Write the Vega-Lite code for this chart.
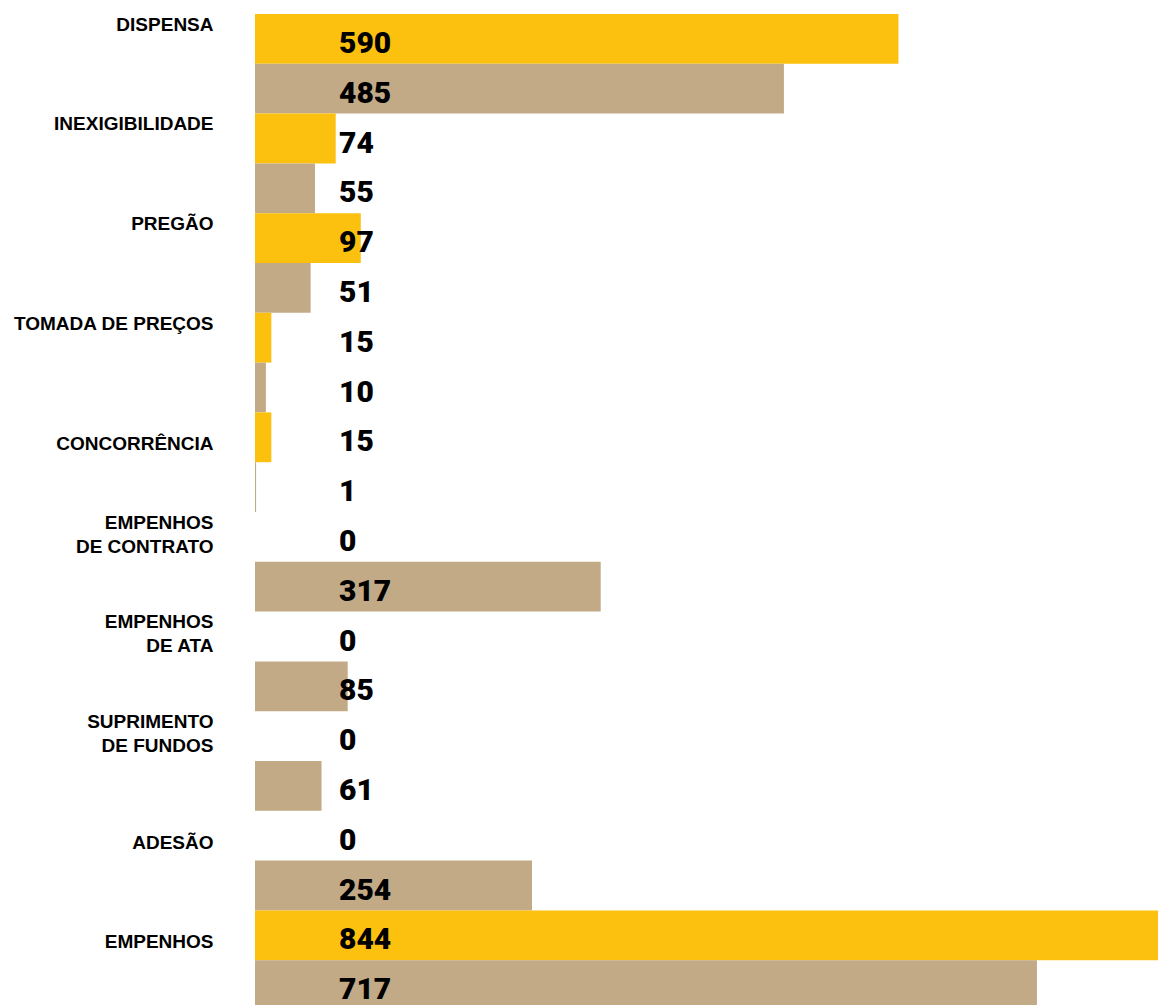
{
  "$schema": "https://vega.github.io/schema/vega-lite/v6.json",
  "autosize": "none",
  "width": 903,
  "height": 991,
  "padding": {"left": 255, "top": 14, "right": 0, "bottom": 0},
  "background": "white",
  "config": {"view": {"stroke": null}},
  "data": {
    "values": [
      {"modalidade": "DISPENSA", "serie": "A", "valor": 590},
      {"modalidade": "DISPENSA", "serie": "B", "valor": 485},
      {"modalidade": "INEXIGIBILIDADE", "serie": "A", "valor": 74},
      {"modalidade": "INEXIGIBILIDADE", "serie": "B", "valor": 55},
      {"modalidade": "PREGÃO", "serie": "A", "valor": 97},
      {"modalidade": "PREGÃO", "serie": "B", "valor": 51},
      {"modalidade": "TOMADA DE PREÇOS", "serie": "A", "valor": 15},
      {"modalidade": "TOMADA DE PREÇOS", "serie": "B", "valor": 10},
      {"modalidade": "CONCORRÊNCIA", "serie": "A", "valor": 15},
      {"modalidade": "CONCORRÊNCIA", "serie": "B", "valor": 1},
      {"modalidade": "EMPENHOS|DE CONTRATO", "serie": "A", "valor": 0},
      {"modalidade": "EMPENHOS|DE CONTRATO", "serie": "B", "valor": 317},
      {"modalidade": "EMPENHOS|DE ATA", "serie": "A", "valor": 0},
      {"modalidade": "EMPENHOS|DE ATA", "serie": "B", "valor": 85},
      {"modalidade": "SUPRIMENTO|DE FUNDOS", "serie": "A", "valor": 0},
      {"modalidade": "SUPRIMENTO|DE FUNDOS", "serie": "B", "valor": 61},
      {"modalidade": "ADESÃO", "serie": "A", "valor": 0},
      {"modalidade": "ADESÃO", "serie": "B", "valor": 254},
      {"modalidade": "EMPENHOS", "serie": "A", "valor": 844},
      {"modalidade": "EMPENHOS", "serie": "B", "valor": 717}
    ]
  },
  "encoding": {
    "y": {
      "field": "modalidade",
      "type": "nominal",
      "sort": null,
      "scale": {"paddingInner": 0, "paddingOuter": 0, "range": [0, 996]},
      "axis": {
        "title": null,
        "domain": false,
        "ticks": false,
        "labelPadding": 42,
        "labelAlign": "right",
        "labelBaseline": "alphabetic",
        "labelOffset": {
          "condition": {
            "test": "indexof(['CONCORRÊNCIA', 'ADESÃO', 'EMPENHOS'], datum.value) >= 0",
            "value": -12
          },
          "value": -33
        },
        "labelFont": "Liberation Sans",
        "labelFontWeight": "bold",
        "labelFontSize": 19,
        "labelColor": "#000000",
        "labelLineHeight": 24,
        "labelLimit": 300,
        "labelExpr": "split(datum.label, '|')"
      }
    },
    "yOffset": {
      "field": "serie",
      "type": "nominal",
      "scale": {"paddingInner": 0, "paddingOuter": 0}
    }
  },
  "layer": [
    {
      "mark": {"type": "bar", "clip": true},
      "encoding": {
        "x": {
          "field": "valor",
          "type": "quantitative",
          "scale": {"domain": [0, 828], "nice": false},
          "axis": null
        },
        "color": {
          "field": "serie",
          "type": "nominal",
          "scale": {"domain": ["A", "B"], "range": ["#FCC10E", "#C2AA87"]},
          "legend": null
        }
      }
    },
    {
      "mark": {
        "type": "text",
        "align": "left",
        "baseline": "alphabetic",
        "dx": 84,
        "dy": 14,
        "font": "Roboto",
        "fontWeight": 900,
        "fontSize": 30,
        "letterSpacing": -0.5,
        "color": "#000000"
      },
      "encoding": {
        "x": {"datum": 0},
        "text": {"field": "valor", "type": "quantitative"}
      }
    }
  ]
}
